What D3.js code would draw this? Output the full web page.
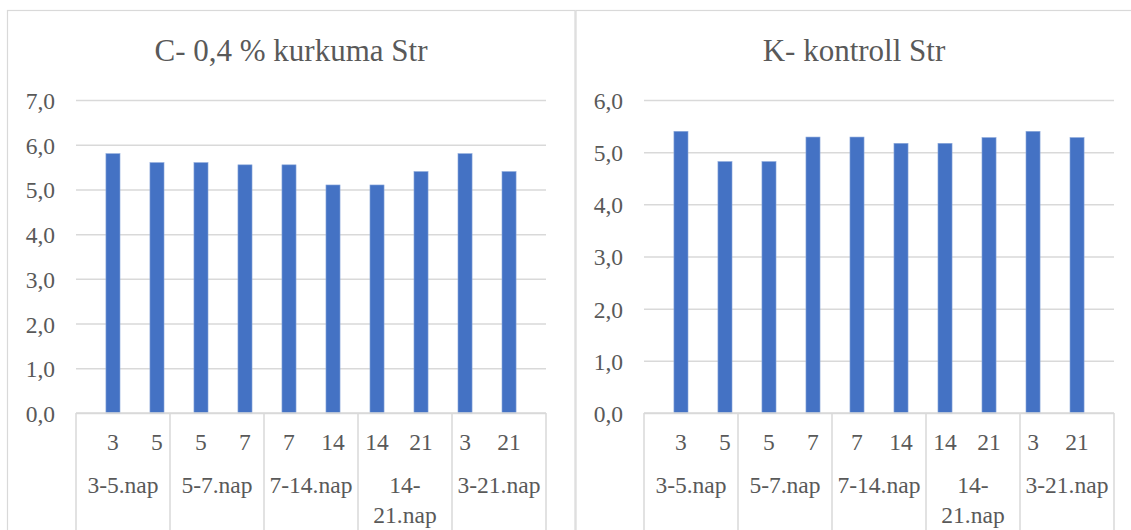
<!DOCTYPE html>
<html>
<head>
<meta charset="utf-8">
<script src="https://cdn.jsdelivr.net/npm/d3@7"></script>
<style>
  html, body { margin: 0; padding: 0; background: #fff; }
  svg { display: block; }
</style>
</head>
<body>
<svg id="chart" width="1131" height="530"></svg>
<script>
// Period groups and the day labels of the bars within them
const groups = ["3-5.nap", "5-7.nap", "7-14.nap", "14-21.nap", "3-21.nap"];
const days = ["3", "5", "5", "7", "7", "14", "14", "21", "3", "21"];

// Measured values per bar
const kurkumaValues = [5.8, 5.6, 5.6, 5.55, 5.55, 5.1, 5.1, 5.4, 5.8, 5.4];
const kontrollValues = [5.4, 4.82, 4.82, 5.29, 5.29, 5.17, 5.17, 5.28, 5.4, 5.28];

// Y-axis ticks of each panel
const kurkumaTicks = [0, 1, 2, 3, 4, 5, 6, 7];
const kontrollTicks = [0, 1, 2, 3, 4, 5, 6];

const titles = ["C- 0,4 % kurkuma Str", "K- kontroll Str"];

const FONT = "'Liberation Serif', Tinos, 'Times New Roman', serif";
const INK = "#595959";
const GRID = "#d9d9d9";
const BAR = "#4472c4";
const fmt = v => d3.format(".1f")(v).replace(".", ",");

const svg = d3.select("#chart");

const panels = [
  { title: titles[0], values: kurkumaValues, ticks: kurkumaTicks,
    frameX: 7, frameW: 567.5, titleX: 291, plotL: 76, plotR: 546 },
  { title: titles[1], values: kontrollValues, ticks: kontrollTicks,
    frameX: 575.5, frameW: 600, titleX: 854, plotL: 644, plotR: 1114 }
];

const plotTop = 100, plotBottom = 413;
const LABEL_SIZE = 23.5;

function label(sel, size) {
  return sel.attr("fill", INK)
    .style("font-family", FONT)
    .style("font-size", size + "px");
}

panels.forEach(p => {
  const g = svg.append("g");

  // chart frame
  g.append("rect")
    .attr("x", p.frameX + 0.5).attr("y", 10.5)
    .attr("width", p.frameW).attr("height", 600)
    .attr("fill", "none").attr("stroke", GRID).attr("stroke-width", 1.2);

  // title
  g.append("text")
    .attr("x", p.titleX)
    .attr("y", 61)
    .attr("text-anchor", "middle")
    .call(label, 31)
    .text(p.title);

  const y = d3.scaleLinear()
    .domain([0, d3.max(p.ticks)])
    .range([plotBottom, plotTop]);

  const x = d3.scaleBand()
    .domain(d3.range(days.length))
    .range([p.plotL, p.plotR])
    .padding(0.68);

  const xg = d3.scaleBand()
    .domain(groups)
    .range([p.plotL, p.plotR]);

  // gridlines + y labels via axis
  const yAxis = d3.axisLeft(y)
    .tickValues(p.ticks)
    .tickFormat(fmt)
    .tickSize(-(p.plotR - p.plotL))
    .tickPadding(21);

  const ya = g.append("g")
    .attr("transform", `translate(${p.plotL},0)`)
    .call(yAxis);
  ya.attr("font-family", null).attr("font-size", null);
  ya.select(".domain").remove();
  ya.selectAll(".tick line").attr("stroke", GRID).attr("stroke-width", 1.5);
  ya.selectAll(".tick text").call(label, LABEL_SIZE).attr("dy", "0.36em");

  // bars
  g.append("g").selectAll("rect")
    .data(p.values)
    .join("rect")
    .attr("x", (d, i) => x(i))
    .attr("width", x.bandwidth())
    .attr("y", d => y(d))
    .attr("height", d => y(0) - y(d))
    .attr("fill", BAR)
    .attr("stroke", "#8eaadb")
    .attr("stroke-width", 0.6);

  // category axis: baseline + group dividers
  g.append("line")
    .attr("x1", p.plotL).attr("x2", p.plotR)
    .attr("y1", plotBottom).attr("y2", plotBottom)
    .attr("stroke", GRID).attr("stroke-width", 1.5);

  const dividers = groups.map(d => xg(d)).concat([p.plotR]);
  g.append("g").selectAll("line")
    .data(dividers)
    .join("line")
    .attr("x1", d => d).attr("x2", d => d)
    .attr("y1", plotBottom).attr("y2", 540)
    .attr("stroke", GRID).attr("stroke-width", 1.5);

  // day labels
  g.append("g").selectAll("text")
    .data(days)
    .join("text")
    .attr("x", (d, i) => x(i) + x.bandwidth() / 2)
    .attr("y", 450)
    .attr("text-anchor", "middle")
    .call(label, LABEL_SIZE)
    .text(d => d);

  // group labels, wrapped after the hyphen when too wide
  groups.forEach(name => {
    const cx = xg(name) + xg.bandwidth() / 2;
    const t = g.append("text")
      .attr("x", cx).attr("y", 493)
      .attr("text-anchor", "middle")
      .call(label, LABEL_SIZE)
      .text(name);
    if (name.length > 8 || t.node().getComputedTextLength() > xg.bandwidth() - 4) {
      const cut = name.indexOf("-") + 1;
      t.text(null);
      t.append("tspan").attr("x", cx).attr("y", 493).text(name.slice(0, cut));
      t.append("tspan").attr("x", cx).attr("y", 523).text(name.slice(cut));
    }
  });
});
</script>
</body>
</html>
